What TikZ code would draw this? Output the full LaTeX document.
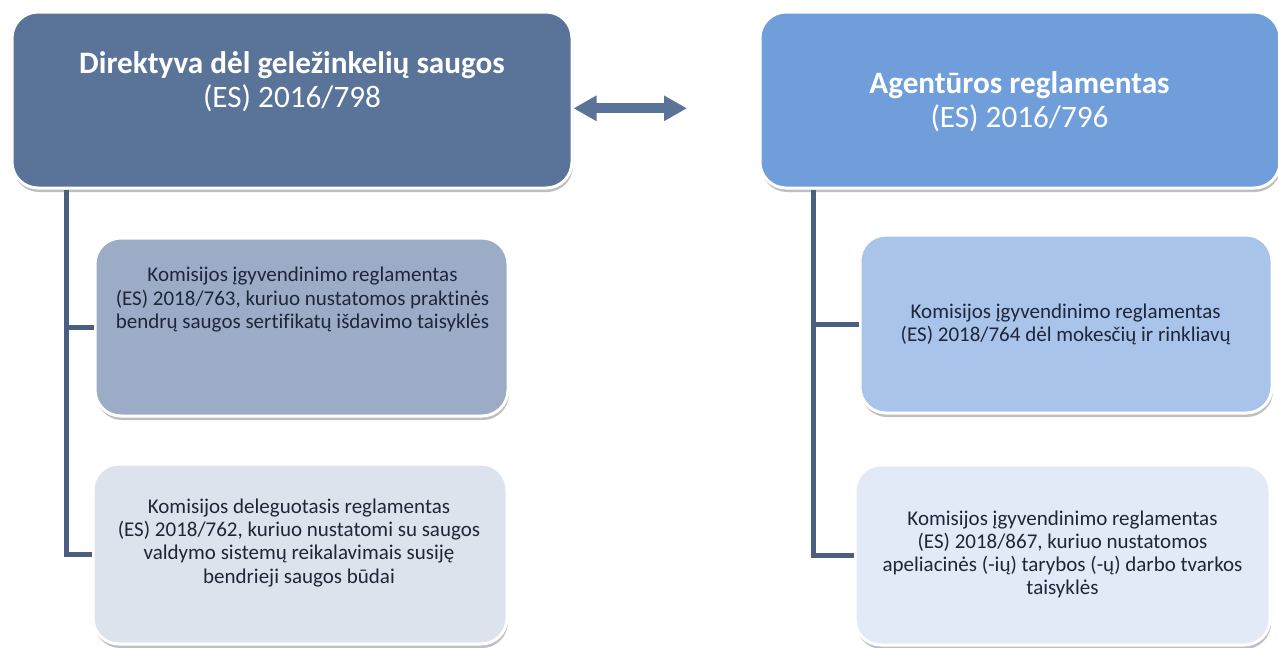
\documentclass[tikz,border=0pt]{standalone}
\usepackage{fontspec}
\setmainfont{Carlito}[Ligatures=NoCommon]
\usetikzlibrary{shadows,arrows.meta}
\definecolor{topL}{RGB}{90,115,153}
\definecolor{c1L}{RGB}{156,172,199}
\definecolor{c2L}{RGB}{221,227,236}
\definecolor{topR}{RGB}{111,158,219}
\definecolor{c1R}{RGB}{169,196,234}
\definecolor{c2R}{RGB}{226,234,247}
\definecolor{lineC}{RGB}{74,94,128}
\definecolor{txtC}{RGB}{30,38,56}
\tikzset{
  box/.style={rectangle, draw=white, line width=3pt, rounded corners=26pt, inner sep=0pt,
    drop shadow={shadow xshift=1pt, shadow yshift=-4pt, opacity=0.25, fill=black}},
  conn/.style={draw=lineC, line width=5pt},
  ttl/.style={inner sep=0pt, anchor=base, text=white, font=\fontsize{31.2}{34}\selectfont},
  sub/.style={inner sep=0pt, anchor=base, text=txtC, font=\fontsize{21}{23.3}\selectfont},
  biarrow/.style={draw=topL, line width=10pt, {Triangle[length=23pt,width=24pt]}-{Triangle[length=23pt,width=24pt]}}
}
\begin{document}
\begin{tikzpicture}[x=1pt,y=-1pt]
\useasboundingbox (0,0) rectangle (1278,648);
\fill[white] (0,0) rectangle (1278,648);
% connector anchors
\coordinate (lv) at (66.7,0);
\coordinate (rv) at (813,0);
\coordinate (arrR) at (687,108.3);
% boxes
\node[box, fill=topL, minimum width=560pt, minimum height=176pt] (L) at (292,100) {};
\node[box, fill=topR, minimum width=520pt, minimum height=176pt] (R) at (1020,100) {};
\node[box, fill=c1L, minimum width=413pt, minimum height=178pt] (LC1) at (301.5,327) {};
\node[box, fill=c2L, minimum width=414pt, minimum height=180pt] (LC2) at (300,554) {};
\node[box, fill=c1R, minimum width=412pt, minimum height=178pt] (RC1) at (1066,324) {};
\node[box, fill=c2R, minimum width=415pt, minimum height=180pt] (RC2) at (1062.5,555) {};
% connectors
\draw[conn] (lv |- L.south) |- (LC2.west);
\draw[conn] (lv |- LC1.west) -- (LC1.west);
\draw[conn] (rv |- R.south) |- (RC2.west);
\draw[conn] (rv |- RC1.west) -- (RC1.west);
\draw[biarrow] (L.east |- arrR) -- (arrR);
% texts
\node[ttl] (tL) at (292,73) {\begin{tabular}[t]{@{}c@{}}\textbf{Direktyva dėl geležinkelių saugos}\\(ES) 2016/798\end{tabular}};
\node[ttl] (tR) at (1019.5,93) {\begin{tabular}[t]{@{}c@{}}\textbf{Agentūros reglamentas}\\(ES) 2016/796\end{tabular}};
\node[sub] (tLC1) at (302.5,281.7) {\begin{tabular}[t]{@{}c@{}}Komisijos įgyvendinimo reglamentas\\(ES) 2018/763, kuriuo nustatomos praktinės\\bendrų saugos sertifikatų išdavimo taisyklės\end{tabular}};
\node[sub] (tLC2) at (299,513.3) {\begin{tabular}[t]{@{}c@{}}Komisijos deleguotasis reglamentas\\(ES) 2018/762, kuriuo nustatomi su saugos\\valdymo sistemų reikalavimais susiję\\bendrieji saugos būdai\end{tabular}};
\node[sub] (tRC1) at (1065.7,318) {\begin{tabular}[t]{@{}c@{}}Komisijos įgyvendinimo reglamentas\\(ES) 2018/764 dėl mokesčių ir rinkliavų\end{tabular}};
\node[sub] (tRC2) at (1062.5,525) {\begin{tabular}[t]{@{}c@{}}Komisijos įgyvendinimo reglamentas\\(ES) 2018/867, kuriuo nustatomos\\apeliacinės (-ių) tarybos (-ų) darbo tvarkos\\taisyklės\end{tabular}};
\end{tikzpicture}
\end{document}
